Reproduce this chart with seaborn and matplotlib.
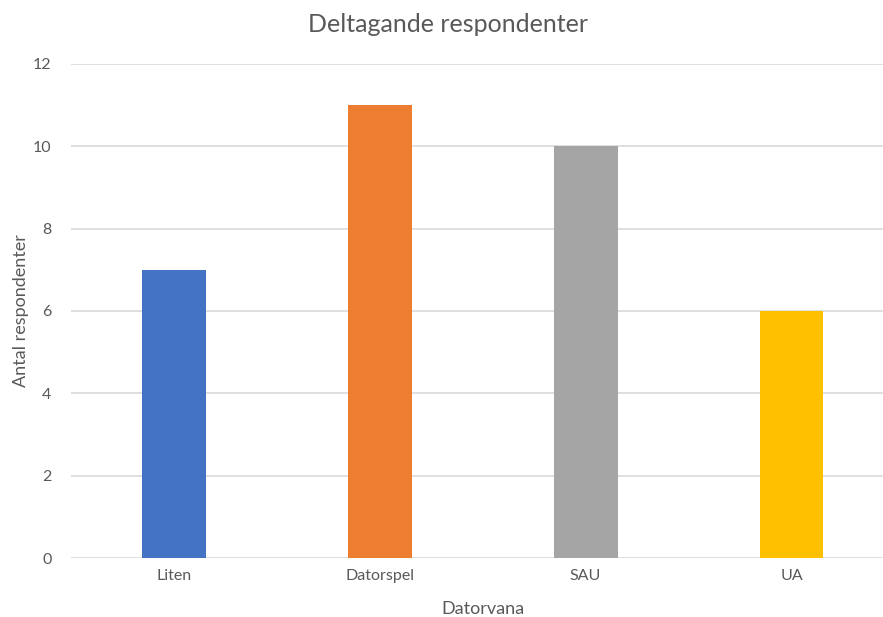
import matplotlib
matplotlib.use("Agg")
import matplotlib.pyplot as plt
import seaborn as sns
import pandas as pd

categories = ["Liten", "Datorspel", "SAU", "UA"]
values = [7, 11, 10, 6]
colors = ["#4472C4", "#ED7D31", "#A5A5A5", "#FFC000"]
y_ticks = [0, 2, 4, 6, 8, 10, 12]

sns.set_theme(style="white")
plt.rcParams["font.family"] = ["Lato", "DejaVu Sans"]

df = pd.DataFrame({"Datorvana": categories, "Antal": values})

fig = plt.figure(figsize=(8.83, 6.17), dpi=100)
ax = fig.add_axes([0.0804, 0.0956, 0.9326, 0.8007])

sns.barplot(data=df, x="Datorvana", y="Antal", hue="Datorvana",
            palette=colors, width=0.31, legend=False, ax=ax,
            saturation=1, linewidth=0, zorder=3)

ax.set_ylim(0, 12)
ax.set_xlim(-0.5, 3.5)
ax.set_yticks(y_ticks)
ax.yaxis.grid(True, color="#D9D9D9", linewidth=1.2, zorder=0)
ax.set_axisbelow(True)
for s in ax.spines.values():
    s.set_visible(False)
ax.tick_params(axis="both", length=0, labelsize=11.5, colors="#595959")
ax.tick_params(axis="y", pad=14)
ax.tick_params(axis="x", pad=8)

ax.set_xlabel("Datorvana", fontsize=13, color="#595959", labelpad=13)
ax.set_ylabel("Antal respondenter", fontsize=13, color="#595959", labelpad=3)
fig.text(0.507, 0.96, "Deltagande respondenter", ha="center", va="center",
         fontsize=18, color="#595959")

fig.savefig("out.png", dpi=100)
